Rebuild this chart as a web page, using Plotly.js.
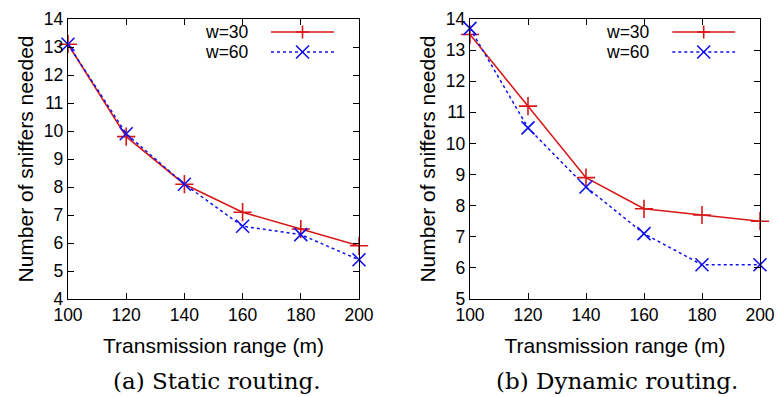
<!DOCTYPE html>
<html><head><meta charset="utf-8">
<script src="https://cdn.plot.ly/plotly-3.0.1.min.js"></script>
<style>html,body{margin:0;padding:0;background:#fff}</style>
</head><body><div id="chart" style="width:777px;height:397px"></div>
<script>
const ranges = [100, 120, 140, 160, 180, 200];
const staticW30 = [13.1, 9.8, 8.1, 7.1, 6.5, 5.9];
const staticW60 = [13.1, 9.9, 8.1, 6.6, 6.3, 5.4];
const dynamicW30 = [13.5, 11.2, 8.9, 7.9, 7.7, 7.5];
const dynamicW60 = [13.7, 10.5, 8.6, 7.1, 6.1, 6.1];
const seriesNames = ['w=30', 'w=60'];
const captions = ['(a) Static routing.', '(b) Dynamic routing.'];
const xTitle = 'Transmission range (m)';
const yTitle = 'Number of sniffers needed';

const RED = '#d81818', BLUE = '#1010f0';
function tr(y, idx, xa, ya) {
  return {
    x: ranges, y: y, xaxis: xa, yaxis: ya, type: 'scatter', mode: 'lines+markers',
    name: seriesNames[idx], showlegend: false, cliponaxis: false,
    line: idx === 0 ? {color: RED, width: 1.6} : {color: BLUE, width: 1.5, dash: 'dot'},
    marker: {symbol: idx === 0 ? 'cross-thin' : 'x-thin', size: 13,
             line: {color: idx === 0 ? RED : BLUE, width: 1.6}}
  };
}
const data = [
  tr(staticW30, 0, 'x', 'y'), tr(staticW60, 1, 'x', 'y'),
  tr(dynamicW30, 0, 'x2', 'y2'), tr(dynamicW60, 1, 'x2', 'y2')
];
const font = {family: 'Liberation Sans, Arial, sans-serif', size: 18, color: '#000'};
const kfont = {family: 'Liberation Sans, Arial, sans-serif', size: 17.5, color: '#000'};
const tfont = {family: 'Liberation Sans, Arial, sans-serif', size: 21, color: '#000'};
function xax(dom, anchor) {
  return {domain: dom, anchor: anchor, range: [100, 200], dtick: 20, tick0: 100,
    showline: true, linecolor: '#000', linewidth: 1.2, mirror: 'ticks',
    ticks: 'inside', ticklen: 6, tickcolor: '#000', showgrid: false, zeroline: false,
    tickfont: kfont, title: {text: xTitle, font: tfont, standoff: 14}};
}
function yax(dom, anchor, lo) {
  return {domain: dom, anchor: anchor, range: [lo, 14], dtick: 1,
    showline: true, linecolor: '#000', linewidth: 1.2, mirror: 'ticks',
    ticks: 'inside', ticklen: 6, tickcolor: '#000', showgrid: false, zeroline: false,
    tickfont: kfont, title: {text: yTitle, font: tfont, standoff: 4}};
}
const ydom = [1 - 299/397, 1 - 19/397];
const domA = [68/777, 359/777], domB = [470/777, 760/777];
const shapes = [], annotations = [];
function pxLine(xm, yy, dx0, dy0, dx1, dy1, col) {
  return {type: 'line', xref: 'paper', yref: 'paper', xsizemode: 'pixel', ysizemode: 'pixel',
    xanchor: xm, yanchor: yy, x0: dx0, x1: dx1, y0: dy0, y1: dy1,
    line: {color: col, width: 1.6}};
}
[[domA, 'x', 'y'], [domB, 'x2', 'y2']].forEach(([dom, xa, ya], k) => {
  const w = dom[1] - dom[0];
  const x0 = dom[0] + w * (203/291), x1 = dom[0] + w * (266/291);
  const xm = (x0 + x1) / 2;
  [[32, RED, 'solid', 0], [52, BLUE, 'dot', 1]].forEach(([py, col, dash, i]) => {
    const yy = 1 - py/397;
    shapes.push({type: 'line', xref: 'paper', yref: 'paper', x0: x0, x1: x1, y0: yy, y1: yy,
      line: {color: col, width: 1.6, dash: dash}});
    if (i === 0) {
      shapes.push(pxLine(xm, yy, -6.5, 0, 6.5, 0, col));
      shapes.push(pxLine(xm, yy, 0, -6.5, 0, 6.5, col));
    } else {
      shapes.push(pxLine(xm, yy, -6.5, -6.5, 6.5, 6.5, col));
      shapes.push(pxLine(xm, yy, -6.5, 6.5, 6.5, -6.5, col));
    }
    annotations.push({xref: 'paper', yref: 'paper', x: dom[0] + w * (182/291), y: yy,
      text: seriesNames[i], showarrow: false, xanchor: 'right', yanchor: 'middle',
      height: 16, borderpad: 0, font: {family: font.family, size: 17.5, color: '#000'}});
  });
  annotations.push({xref: 'paper', yref: 'paper', x: (k === 0 ? 217 : 617) / 777, y: 1 - 381/397,
    text: captions[k], showarrow: false, xanchor: 'center', yanchor: 'middle',
    font: {family: 'DejaVu Serif, serif', size: 23, color: '#000'}});
});
const layout = {
  width: 777, height: 397, margin: {l: 0, r: 0, t: 0, b: 0},
  paper_bgcolor: '#fff', plot_bgcolor: '#fff', showlegend: false, font: font,
  xaxis: xax(domA, 'y'), yaxis: yax(ydom, 'x', 4),
  xaxis2: xax(domB, 'y2'), yaxis2: yax(ydom, 'x2', 5),
  shapes: shapes, annotations: annotations
};
Plotly.newPlot('chart', data, layout, {displayModeBar: false, staticPlot: true});
</script></body></html>
